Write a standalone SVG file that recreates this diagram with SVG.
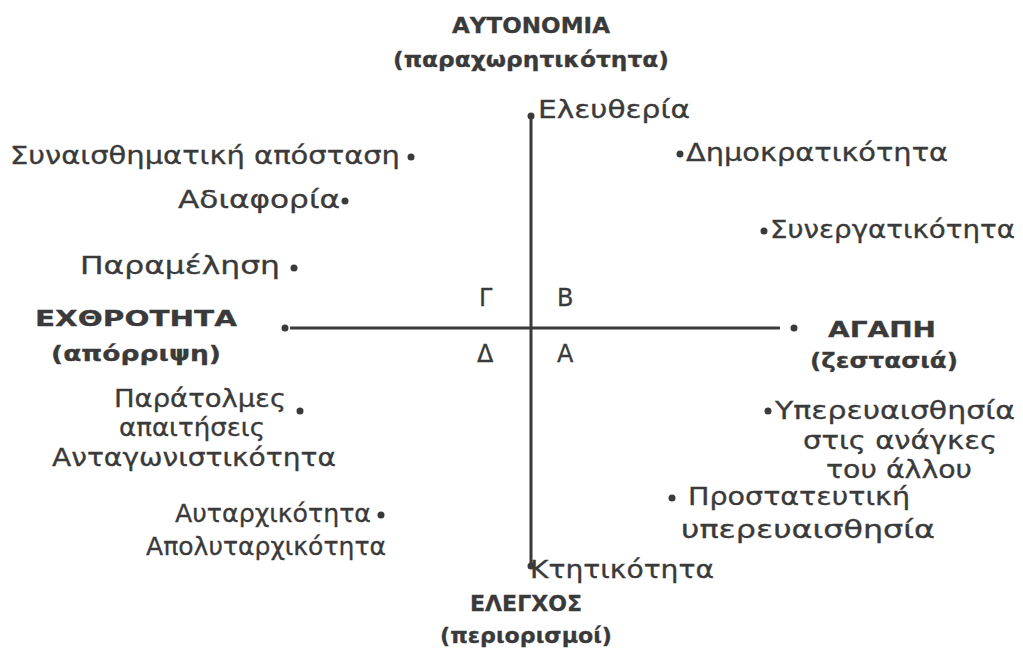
<svg xmlns="http://www.w3.org/2000/svg" width="1023" height="653" viewBox="0 0 1023 653">
<style>
text{font-family:"DejaVu Sans","Liberation Sans",sans-serif;fill:#3a3a3a;font-size:24px;stroke:#3a3a3a;stroke-width:0.3}
.b{font-weight:bold;font-size:22px}
.m{text-anchor:middle}
.axis{stroke:#3a3a3a;stroke-width:3;fill:none}
.dot{fill:#3a3a3a}
</style>
<rect width="1023" height="653" fill="#ffffff"/>
<g id="connectors">
<line class="axis" x1="531" y1="116" x2="531" y2="566"/>
<line class="axis" x1="290" y1="328" x2="780" y2="328"/>
<circle class="dot" cx="531" cy="116" r="3.5"/>
<circle class="dot" cx="531" cy="566" r="3.5"/>
<circle class="dot" cx="285" cy="328" r="3.5"/>
<circle class="dot" cx="794" cy="328" r="3.5"/>
</g>
<g id="autonomia">
<text class="b m" x="531" y="33" textLength="158" lengthAdjust="spacingAndGlyphs">ΑΥΤΟΝΟΜΙΑ</text>
<text class="b m" x="531" y="67" textLength="276" lengthAdjust="spacingAndGlyphs">(παραχωρητικότητα)</text>
</g>
<g id="eleutheria"><text x="538" y="118" textLength="152" lengthAdjust="spacingAndGlyphs">Ελευθερία</text></g>
<g id="synaisthimatiki"><text x="10" y="164" textLength="390" lengthAdjust="spacingAndGlyphs">Συναισθηματική απόσταση</text><circle class="dot" cx="411" cy="157" r="3.5"/></g>
<g id="dimokratikotita"><circle class="dot" cx="680" cy="154" r="3.5"/><text x="686" y="161" textLength="262" lengthAdjust="spacingAndGlyphs">Δημοκρατικότητα</text></g>
<g id="adiaforia"><text x="178" y="208" textLength="162" lengthAdjust="spacingAndGlyphs">Αδιαφορία</text><circle class="dot" cx="345" cy="201" r="3.5"/></g>
<g id="synergatikotita"><circle class="dot" cx="764" cy="231" r="3.5"/><text x="770" y="238" textLength="245" lengthAdjust="spacingAndGlyphs">Συνεργατικότητα</text></g>
<g id="paramelisi"><text x="80" y="274" textLength="200" lengthAdjust="spacingAndGlyphs">Παραμέληση</text><circle class="dot" cx="294" cy="268" r="3.5"/></g>
<g id="quadrants">
<text x="479" y="306">Γ</text>
<text x="557" y="306">Β</text>
<text x="477" y="362">Δ</text>
<text x="557" y="362">Α</text>
</g>
<g id="echthrotita">
<text class="b m" x="136" y="326" textLength="202" lengthAdjust="spacingAndGlyphs">ΕΧΘΡΟΤΗΤΑ</text>
<text class="b m" x="136" y="361" textLength="170" lengthAdjust="spacingAndGlyphs">(απόρριψη)</text>
</g>
<g id="agapi">
<text class="b m" x="882" y="337" textLength="108" lengthAdjust="spacingAndGlyphs">ΑΓΑΠΗ</text>
<text class="b m" x="884" y="368" textLength="148" lengthAdjust="spacingAndGlyphs">(ζεστασιά)</text>
</g>
<g id="paratolmes">
<text class="m" x="200" y="407" textLength="172" lengthAdjust="spacingAndGlyphs">Παράτολμες</text>
<circle class="dot" cx="300" cy="411" r="3.5"/>
<text class="m" x="192" y="436" textLength="146" lengthAdjust="spacingAndGlyphs">απαιτήσεις</text>
<text class="m" x="194" y="466" textLength="284" lengthAdjust="spacingAndGlyphs">Ανταγωνιστικότητα</text>
</g>
<g id="yperevaisthisia">
<circle class="dot" cx="768" cy="411" r="3.5"/>
<text x="775" y="419" textLength="240" lengthAdjust="spacingAndGlyphs">Υπερευαισθησία</text>
<text class="m" x="900" y="449" textLength="194" lengthAdjust="spacingAndGlyphs">στις ανάγκες</text>
<text class="m" x="899" y="478" textLength="146" lengthAdjust="spacingAndGlyphs">του άλλου</text>
</g>
<g id="prostateftiki">
<circle class="dot" cx="672" cy="498" r="3.5"/>
<text x="688" y="505" textLength="222" lengthAdjust="spacingAndGlyphs">Προστατευτική</text>
<text class="m" x="808" y="538" textLength="254" lengthAdjust="spacingAndGlyphs">υπερευαισθησία</text>
</g>
<g id="autarxikotita">
<text x="175" y="522" textLength="196" lengthAdjust="spacingAndGlyphs">Αυταρχικότητα</text>
<circle class="dot" cx="381" cy="515" r="3.5"/>
<text x="146" y="555" textLength="240" lengthAdjust="spacingAndGlyphs">Απολυταρχικότητα</text>
</g>
<g id="ktitikotita"><text x="530" y="578" textLength="184" lengthAdjust="spacingAndGlyphs">Κτητικότητα</text></g>
<g id="elegxos">
<text class="b m" x="526" y="611" textLength="112" lengthAdjust="spacingAndGlyphs">ΕΛΕΓΧΟΣ</text>
<text class="b m" x="526" y="643" textLength="172" lengthAdjust="spacingAndGlyphs">(περιορισμοί)</text>
</g>
</svg>
